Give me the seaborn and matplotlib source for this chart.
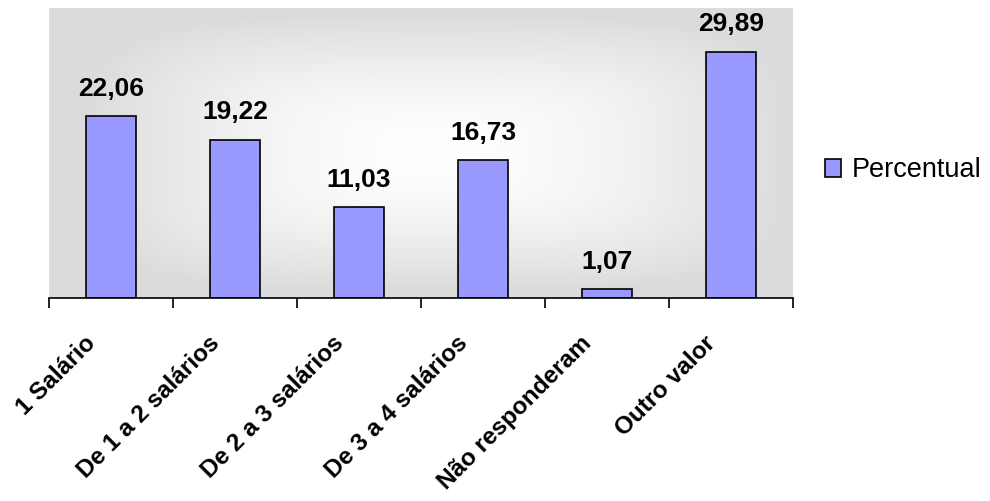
import numpy as np
import pandas as pd
import matplotlib
matplotlib.use("Agg")
import matplotlib.pyplot as plt
import matplotlib.transforms as mtransforms
import seaborn as sns

categorias = ["1 Salário", "De 1 a 2 salários", "De 2 a 3 salários",
              "De 3 a 4 salários", "Não responderam", "Outro valor"]
percentual = [22.06, 19.22, 11.03, 16.73, 1.07, 29.89]
serie = "Percentual"

df = pd.DataFrame({"categoria": categorias, "valor": percentual, "serie": serie})

sns.set_theme(style="white")
plt.rcParams["font.family"] = ["Liberation Sans", "DejaVu Sans"]
plt.rcParams["text.color"] = "black"
plt.rcParams["xtick.labelcolor"] = "black"

fig = plt.figure(figsize=(9.9, 5.01), dpi=100)
ax = fig.add_axes([0.0495, 0.405, 0.7515, 0.579])

# grey-to-white "from centre" backdrop of the plot area
ny, nx = 300, 600
yy, xx = np.mgrid[0:1:ny * 1j, 0:1:nx * 1j]
p = 4.0
d = (np.abs((xx - 0.52) / 0.5) ** p + np.abs((yy - 0.5) / 0.5) ** p) ** (1 / p)
d = np.clip(d / 0.95, 0, 1)
shade = 1.0 - (1.0 - 0.86) * d ** 1.6
ax.imshow(np.dstack([shade, shade, shade]), extent=[0, 1, 0, 1],
          transform=ax.transAxes, aspect="auto", zorder=0, interpolation="bicubic")

sns.barplot(data=df, x="categoria", y="valor", hue="serie",
            palette=["#9999FF"], saturation=1, edgecolor="black", linewidth=1.2,
            width=0.4, ax=ax, zorder=2)

ax.set_xlim(-0.5, len(categorias) - 0.5)
ax.set_ylim(0, 35.2)
ax.set_xlabel("")
ax.set_ylabel("")
ax.set_yticks([])

for side in ["top", "right", "left"]:
    ax.spines[side].set_visible(False)
ax.spines["bottom"].set_color("black")
ax.spines["bottom"].set_linewidth(1.2)

# value labels above bars
for i, v in enumerate(percentual):
    ax.annotate(f"{v:.2f}".replace(".", ","), xy=(i, v), xytext=(0, 11),
                textcoords="offset points", ha="center", va="bottom",
                fontsize=19, fontweight="bold", color="black")

# category labels at centres, tick marks at boundaries
ax.set_xticks(range(len(categorias)))
ax.set_xticklabels(categorias, rotation=45, ha="right", va="top",
                   rotation_mode="anchor", fontsize=17.5, fontweight="bold",
                   color="black")
ax.tick_params(axis="x", which="major", length=0, pad=24)
shift = mtransforms.ScaledTranslation(-27 / 100, 0, fig.dpi_scale_trans)
for lbl in ax.get_xticklabels():
    lbl.set_transform(lbl.get_transform() + shift)
ax.set_xticks(np.arange(-0.5, len(categorias)), minor=True)
ax.tick_params(axis="x", which="minor", length=7, width=1.2, color="black",
               direction="out", bottom=True)

leg = ax.legend(loc="center left", bbox_to_anchor=(1.01, 0.44),
                frameon=False, fontsize=19.5, handlelength=0.6, handleheight=0.6,
                handletextpad=0.4)
for h in leg.legend_handles:
    h.set_edgecolor("black")
    h.set_linewidth(1.2)
for t in leg.get_texts():
    t.set_color("black")

fig.savefig("out.png", dpi=100)
